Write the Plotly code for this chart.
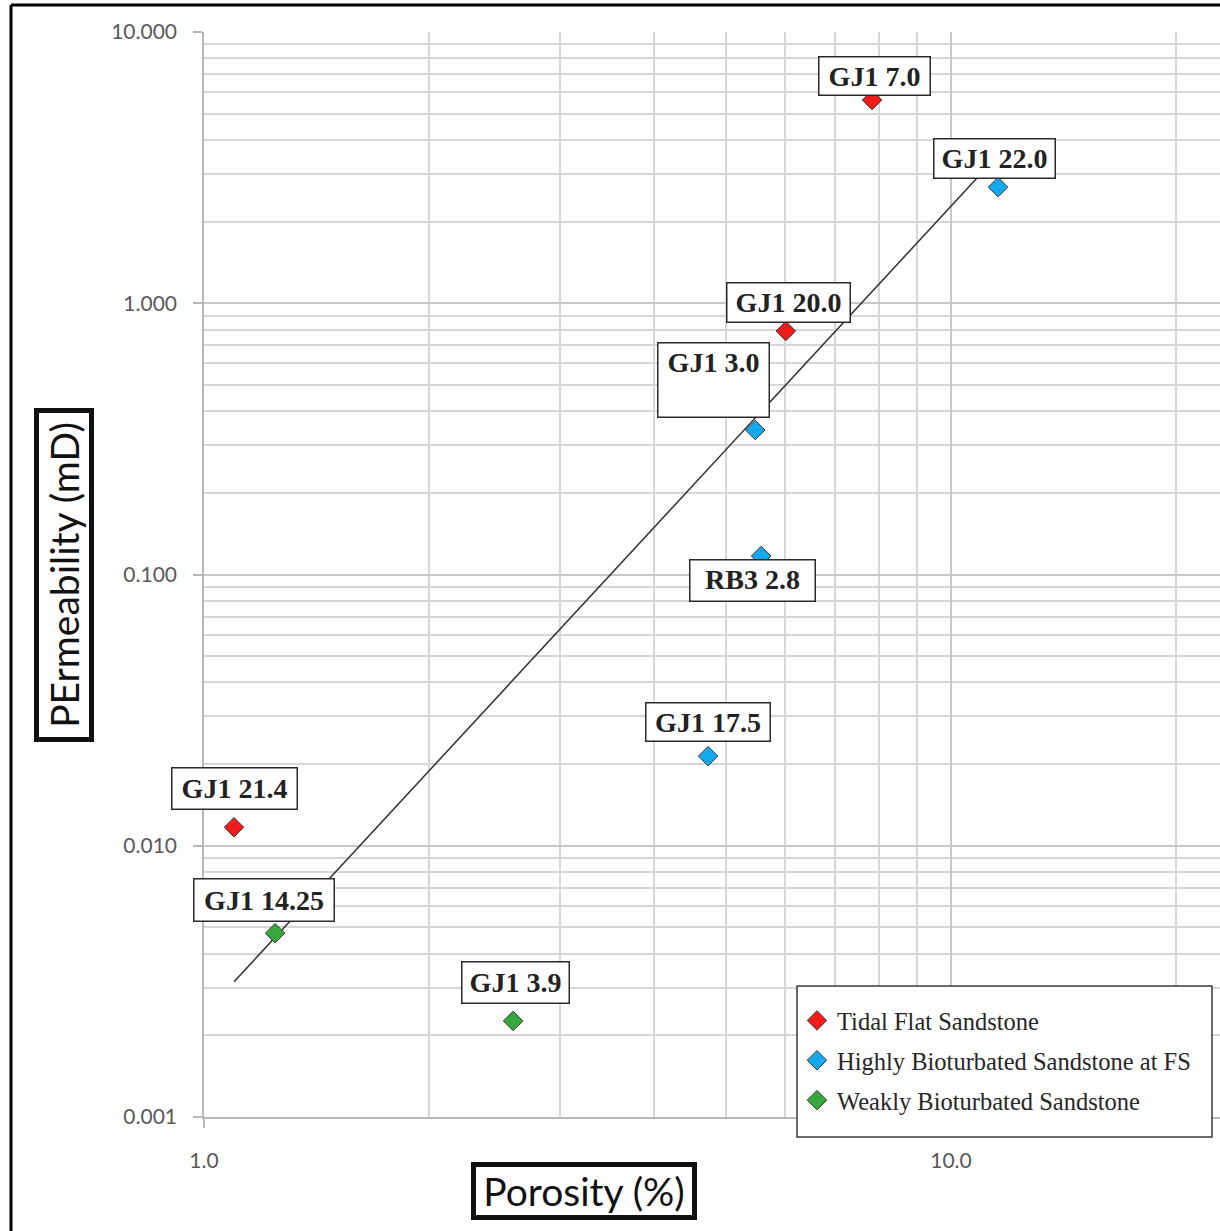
import math
import plotly.graph_objects as go

# ---- data ----
tidal_labels = ["GJ1 7.0", "GJ1 20.0", "GJ1 21.4"]
tidal_por = [7.84, 6.01, 1.097]
tidal_perm = [5.61, 0.790, 0.0117]

high_labels = ["GJ1 22.0", "GJ1 3.0", "RB3 2.8", "GJ1 17.5"]
high_por = [11.56, 5.47, 5.57, 4.73]
high_perm = [2.68, 0.341, 0.117, 0.0214]

weak_labels = ["GJ1 14.25", "GJ1 3.9"]
weak_por = [1.245, 2.593]
weak_perm = [0.00476, 0.00226]

trend_por = [1.097, 11.56]
trend_perm = [0.00315, 3.51]

x_ticks = [1, 10]
x_ticktext = ["1.0", "10.0"]
y_ticks = [0.001, 0.01, 0.1, 1, 10]
y_ticktext = ["0.001", "0.010", "0.100", "1.000", "10.000"]

# ---- figure ----
W, H = 1220, 1231
L, R, T, B = 204, 0, 32, 114
pw, ph = W - L - R, H - T - B
decade_px = 747.0


def px_x(p):
    return (p - L) / pw


def px_y(p):
    return (H - B - p) / ph


fig = go.Figure()
fig.add_trace(go.Scatter(x=trend_por, y=trend_perm, mode="lines",
                         line=dict(color="#303030", width=1.5), showlegend=False,
                         hoverinfo="skip"))

series = [
    ("Tidal Flat Sandstone", tidal_por, tidal_perm, "#f01c1c"),
    ("Highly Bioturbated Sandstone at FS", high_por, high_perm, "#14a9ec"),
    ("Weakly Bioturbated Sandstone", weak_por, weak_perm, "#36a83c"),
]
for i, (name, xs, ys, col) in enumerate(series):
    fig.add_trace(go.Scatter(x=xs, y=ys, mode="markers", name=name,
                             legendgroup=str(i),
                             marker=dict(symbol="diamond", size=15, color=col,
                                         line=dict(color="#3a3a3a", width=1))))

# label offsets / box sizes (pixels)
label_style = {
    "GJ1 7.0": (2, -24, 113, 40, "middle"),
    "GJ1 20.0": (3, -29, 125, 41, "middle"),
    "GJ1 21.4": (0, -39, 127, 43, "middle"),
    "GJ1 22.0": (-4, -29, 123, 41, "middle"),
    "GJ1 3.0": (-42, -50, 113, 76, "top"),
    "RB3 2.8": (-9, 24, 127, 43, "top"),
    "GJ1 17.5": (0, -34, 126, 40, "middle"),
    "GJ1 14.25": (-11, -33, 142, 44, "middle"),
    "GJ1 3.9": (2, -38, 109, 43, "middle"),
}
all_labels = tidal_labels + high_labels + weak_labels
all_x = tidal_por + high_por + weak_por
all_y = tidal_perm + high_perm + weak_perm
for lab, xv, yv in zip(all_labels, all_x, all_y):
    ax, ay, bw, bh, va = label_style[lab]
    fig.add_annotation(x=math.log10(xv), y=math.log10(yv), xref="x", yref="y",
                       text="<b>%s</b>" % lab, showarrow=True, arrowcolor="rgba(0,0,0,0)",
                       arrowwidth=0.1, ax=ax, ay=ay,
                       width=bw - 9, height=bh - 9, valign=va, align="center",
                       font=dict(family="Liberation Serif", size=28, color="#222222"),
                       bgcolor="white", bordercolor="#2a2a2a", borderwidth=1.5, borderpad=3)

# axis titles
fig.add_annotation(x=px_x(64), y=px_y(575), xref="paper", yref="paper",
                   xanchor="center", yanchor="middle",
                   text="PErmeability (mD)", textangle=-90, showarrow=False,
                   width=320, height=46,
                   font=dict(family="Lato", size=39, color="#111111"),
                   bgcolor="white", bordercolor="#111111", borderwidth=5, borderpad=2)
fig.add_annotation(x=px_x(584), y=px_y(1191), xref="paper", yref="paper",
                   xanchor="center", yanchor="middle",
                   text="Porosity (%)", showarrow=False,
                   width=212, height=44,
                   font=dict(family="Lato", size=39, color="#111111"),
                   bgcolor="white", bordercolor="#111111", borderwidth=5, borderpad=2)

# legend box
fig.add_shape(type="rect", xref="paper", yref="paper", layer="above",
              x0=px_x(797), x1=px_x(1212), y0=px_y(1137), y1=px_y(986),
              fillcolor="white", line=dict(color="#3a3a3a", width=1.5))

# outer frame (left and top)
fx = px_x(11)
fy = px_y(5)
fig.add_shape(type="line", xref="paper", yref="paper", x0=fx, x1=fx,
              y0=px_y(1240), y1=fy, line=dict(color="black", width=3))
fig.add_shape(type="line", xref="paper", yref="paper", x0=fx, x1=1.01,
              y0=fy, y1=fy, line=dict(color="black", width=3))

xminor = [2, 3, 4, 5, 6, 7, 8, 9, 20, 30]
yminor = [m * d for d in [0.001, 0.01, 0.1, 1] for m in range(2, 10)]

fig.update_layout(
    width=W, height=H, margin=dict(l=L, r=R, t=T, b=B),
    paper_bgcolor="white", plot_bgcolor="white",
    xaxis=dict(type="log", range=[0, pw / decade_px], tickvals=x_ticks, ticktext=x_ticktext,
               showgrid=True, gridcolor="#c8c8c8", gridwidth=1.5,
               showline=True, linecolor="#b8b8b8", linewidth=1.5,
               ticks="outside", ticklen=9, tickcolor="#b8b8b8", tickwidth=1.5,
               ticklabelstandoff=15, zeroline=False,
               tickfont=dict(family="Lato", size=21, color="#595959"),
               minor=dict(tickvals=xminor, showgrid=True, gridcolor="#d6d6d6", gridwidth=1.5, ticks="")),
    yaxis=dict(type="log", range=[-3, 1], tickvals=y_ticks, ticktext=y_ticktext,
               showgrid=True, gridcolor="#c8c8c8", gridwidth=1.5,
               showline=True, linecolor="#b8b8b8", linewidth=1.5,
               ticks="outside", ticklen=9, tickcolor="#b8b8b8", tickwidth=1.5,
               ticklabelstandoff=12, zeroline=False,
               tickfont=dict(family="Lato", size=21, color="#595959"),
               minor=dict(tickvals=yminor, showgrid=True, gridcolor="#d6d6d6", gridwidth=1.5, ticks="")),
    legend=dict(x=px_x(797), y=px_y(998), xanchor="left", yanchor="top",
                bgcolor="rgba(0,0,0,0)", borderwidth=0,
                font=dict(family="Liberation Serif", size=24.5, color="#262626"),
                traceorder="grouped", tracegroupgap=5),
    showlegend=True,
)

fig.write_html("out.html", config={"displayModeBar": False},
               post_script="document.body.style.margin='0px';")
